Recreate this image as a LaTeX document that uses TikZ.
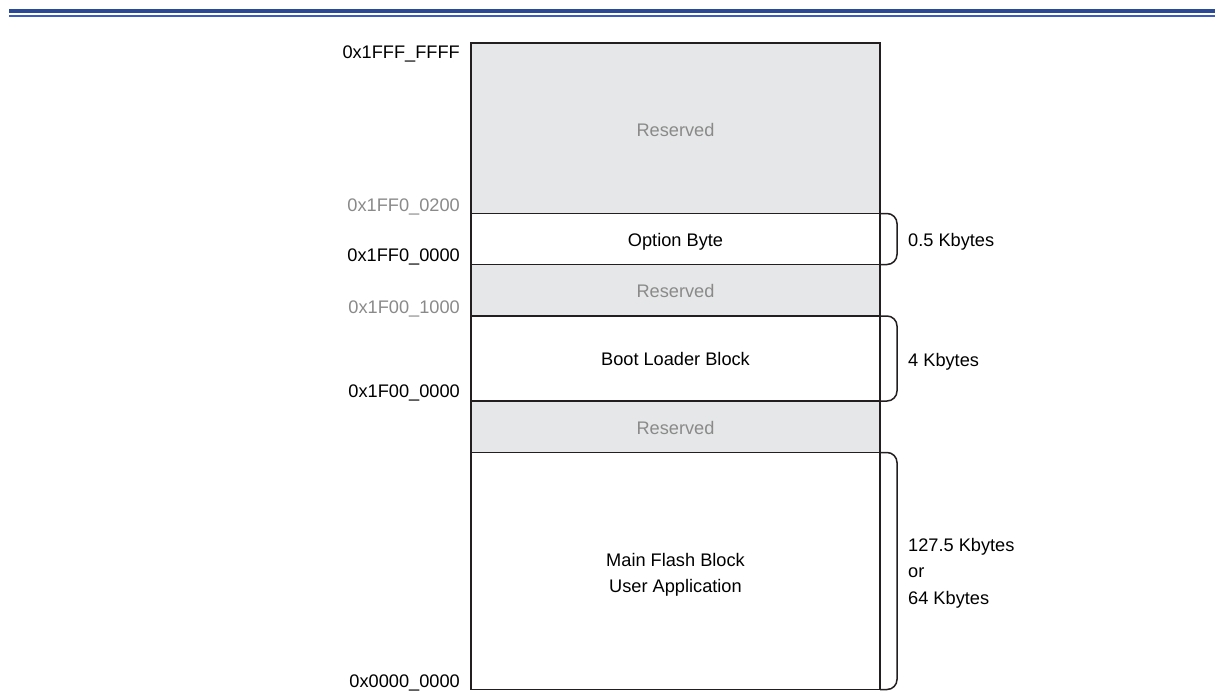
\documentclass[tikz,border=0pt]{standalone}
\usepackage{fontspec}
\setmainfont{Liberation Sans}
\definecolor{band}{HTML}{2B4A96}
\definecolor{bandlight}{HTML}{3A5CC0}
\definecolor{resfill}{HTML}{E6E7E8}
\definecolor{graytext}{HTML}{8A8A8A}
\definecolor{linecol}{HTML}{231F20}
\begin{document}
\begin{tikzpicture}[x=1pt,y=-1pt,
  font=\fontsize{18.2}{21}\selectfont,
  row/.style={draw=linecol, line width=1.5pt, inner sep=0pt, outer sep=0pt, minimum width=409pt, anchor=north west},
  resrow/.style={row, fill=resfill},
  rowtext/.style={anchor=base, inner sep=0pt},
  restext/.style={rowtext, text=graytext},
  addr/.style={anchor=base east, inner sep=0pt},
  grayaddr/.style={addr, text=graytext},
  sizelbl/.style={anchor=base west, inner sep=0pt},
  bracket/.style={draw=linecol, line width=1.5pt, rounded corners=10pt}]
\useasboundingbox (0,0) rectangle (1215,691);
% header band
\fill[band] (9,9) rectangle (1215,13.2);
\fill[bandlight] (9,15.4) rectangle (1215,17);
% memory rows
\node[resrow, minimum height=170.5pt] (res1) at (471,43) {};
\node[row, minimum height=51pt] (opt) at (res1.south west) {};
\node[resrow, minimum height=51.5pt] (res2) at (opt.south west) {};
\node[row, minimum height=85pt] (boot) at (res2.south west) {};
\node[resrow, minimum height=51.5pt] (res3) at (boot.south west) {};
\node[row, minimum height=237pt] (main) at (res3.south west) {};
% row texts
\node[restext] (t1) at ([yshift=-8.5pt]res1.center) {Reserved};
\node[rowtext] (t2) at ([yshift=-7.5pt]opt.center) {Option Byte};
\node[restext] (t3) at ([yshift=-7.5pt]res2.center) {Reserved};
\node[rowtext] (t4) at ([yshift=-7pt]boot.center) {Boot Loader Block};
\node[restext] (t5) at ([yshift=-8pt]res3.center) {Reserved};
\node[rowtext] (t6) at ([yshift=5pt]main.center) {Main Flash Block};
\node[rowtext] (t7) at ([yshift=-21.5pt]main.center) {User Application};
% address labels
\node[addr] (a1) at (460,58.3) {0x1FFF\_FFFF};
\node[grayaddr] (a2) at (460,211.3) {0x1FF0\_0200};
\node[addr] (a3) at (460,261.3) {0x1FF0\_0000};
\node[grayaddr] (a4) at (460,313.3) {0x1F00\_1000};
\node[addr] (a5) at (460,397.3) {0x1F00\_0000};
\node[addr] (a6) at (460,687.3) {0x0000\_0000};
% brackets
\draw[bracket] (opt.north east) -- ([xshift=17pt]opt.north east) -- ([xshift=17pt]opt.south east) -- (opt.south east);
\draw[bracket] (boot.north east) -- ([xshift=17pt]boot.north east) -- ([xshift=17pt]boot.south east) -- (boot.south east);
\draw[bracket] (main.north east) -- ([xshift=17pt]main.north east) -- ([xshift=17pt]main.south east) -- (main.south east);
% size labels
\node[sizelbl] (s1) at (908,246) {0.5 Kbytes};
\node[sizelbl] (s2) at (908,366) {4 Kbytes};
\node[sizelbl] (s3) at (908,551) {127.5 Kbytes};
\node[sizelbl] (s4) at (908,577.5) {or};
\node[sizelbl] (s5) at (908,604) {64 Kbytes};
\end{tikzpicture}
\end{document}
